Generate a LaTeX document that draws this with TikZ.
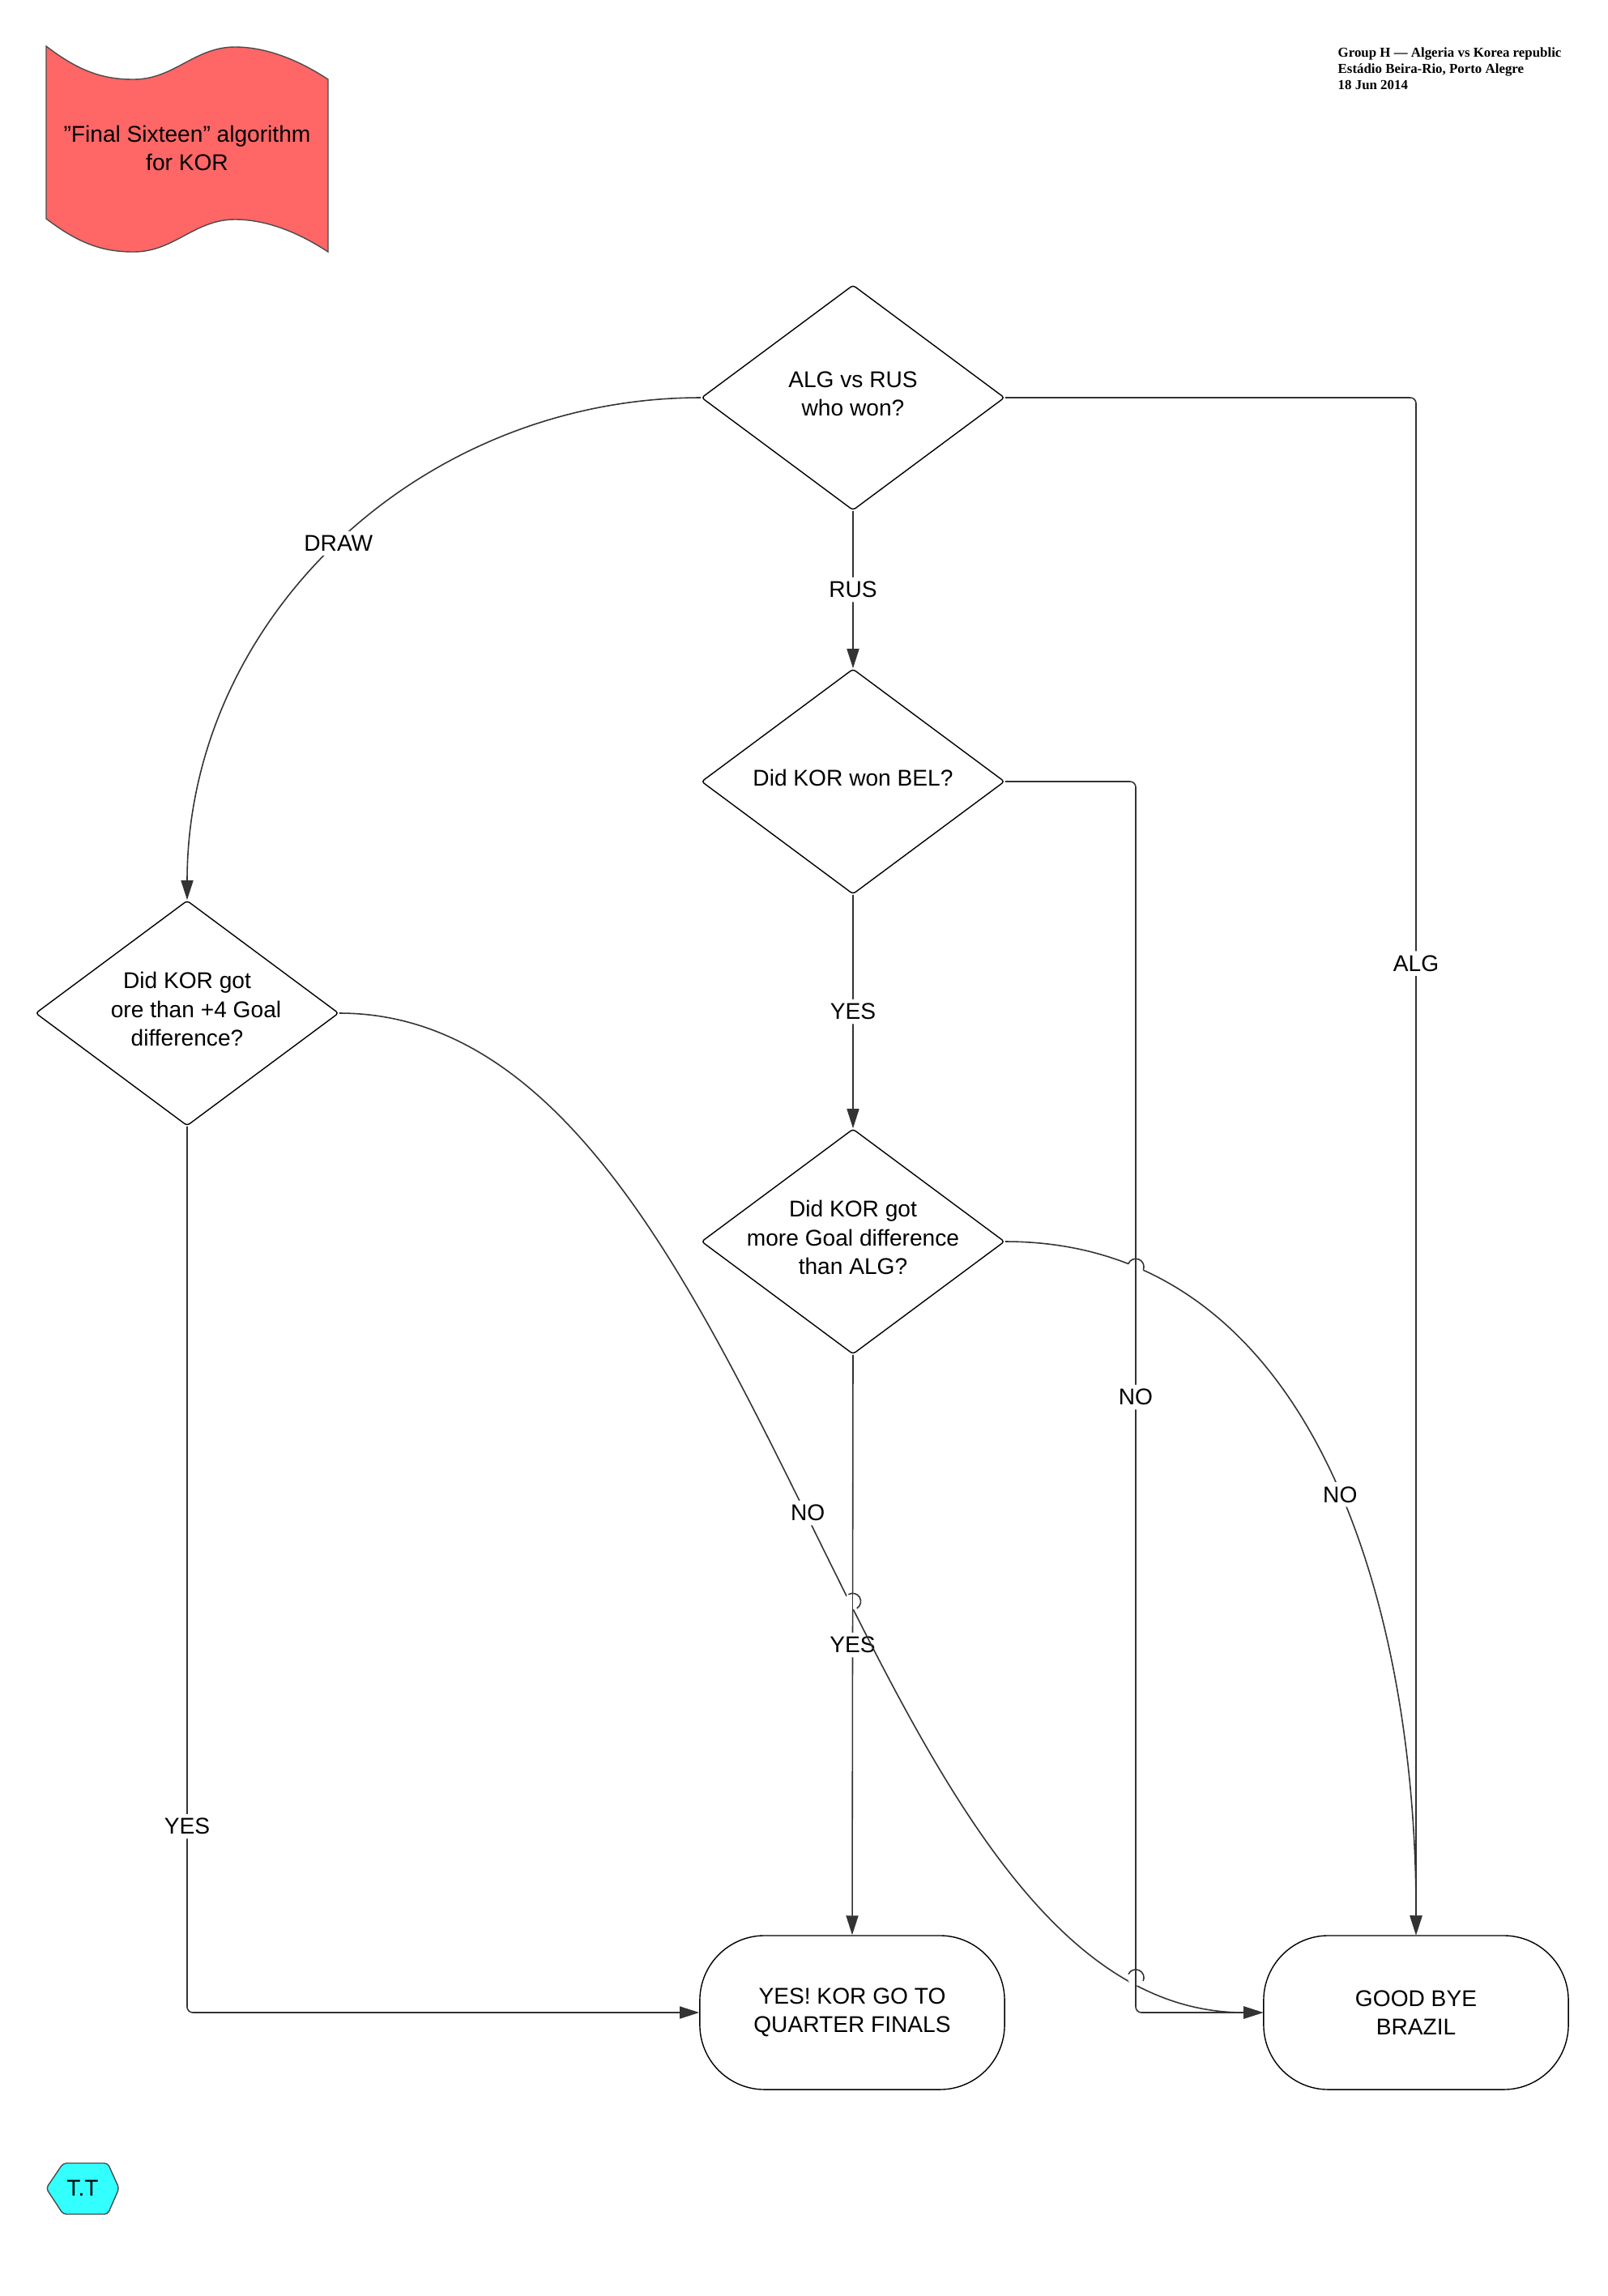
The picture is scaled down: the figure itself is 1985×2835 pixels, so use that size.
\documentclass[tikz,border=0pt]{standalone}
\usepackage{fontspec}
\setmainfont{Liberation Sans}
\newfontfamily\headfont{Liberation Serif}
\usetikzlibrary{shapes.geometric,arrows.meta,intersections,calc}
\definecolor{flagred}{HTML}{FF6666}
\definecolor{ttcyan}{HTML}{33FFFF}

\begin{document}
\begin{tikzpicture}[
	x=0.01cm, y=-0.01cm,
	every node/.style = {font=\fontsize{8}{10}\selectfont},
	every label/.style = {yshift=0.05cm},
	decision/.style = {draw, diamond, rounded corners=1pt, minimum width=3.74cm, minimum height=2.78cm, inner sep=0pt},
	terminal/.style = {draw, rectangle, rounded corners=0.8cm, minimum width=3.76cm, minimum height=1.9cm, align=center},
	conn/.style = {draw=black!80, line width=0.45pt, rounded corners=0.07cm, -{Triangle[length=0.24cm, width=0.15cm]}},
	lbl/.style = {fill=white, inner sep=1.5pt}]

	\useasboundingbox (0,0) rectangle (1985,2835);

	% title flag
	\draw[fill=flagred, draw=black!70, line width=0.4pt]
		(57,57) .. controls (100,90) and (130,98) .. (165,98)
		.. controls (215,98) and (240,58) .. (290,58)
		.. controls (330,58) and (370,75) .. (405,98)
		-- (405,311)
		.. controls (370,288) and (330,271) .. (290,271)
		.. controls (240,271) and (215,311) .. (165,311)
		.. controls (130,311) and (100,303) .. (57,270) -- cycle;
	\node[align=center] (title) at (231,183) {"Final Sixteen" algorithm\\for KOR};

	\node[anchor=north west, align=left, inner sep=0pt, font=\headfont\bfseries\fontsize{4.8}{5.7}\selectfont] (match) at (1651,58)
		{Group H — Algeria vs Korea republic\\Estádio Beira-Rio, Porto Alegre\\18 Jun 2014};

	% decisions
	\node[decision, label={[align=center]center:ALG vs RUS\\who won?}] (alg) at (1053,491) {};
	\node[decision, label={center:Did KOR won BEL?}] (bel) at (1053,965) {};
	\node[decision, label={[align=center]center:Did KOR got\\more Goal difference\\than ALG?}] (gd) at (1053,1533) {};
	\node[decision, label={[align=center]center:Did KOR got\\\hspace*{0.22cm}ore than +4 Goal\\difference?}] (plus) at (231,1251) {};

	% ends
	\node[terminal] (quarter) at (1052,2485) {YES! KOR GO TO\\QUARTER FINALS};
	\node[terminal] (bye) at (1748,2485) {GOOD BYE\\BRAZIL};
	\coordinate (nobend) at (1402,2485);

	% connectors
	\draw[conn] (alg.east) -| node[lbl, pos=0.684] {ALG} (bye.north);
	\draw[conn] (alg.south) -- node[lbl] {RUS} (bel.north);
	\draw[conn] (bel.south) -- node[lbl] {YES} (gd.north);
	\draw[conn] (bel.east) -| node[lbl, pos=0.75] {NO} (nobend) -- (bye.west);
	\draw[conn] (gd.south) -- node[lbl] {YES} (quarter.north);
	\draw[conn] (plus.south) |- node[lbl, pos=0.395] {YES} (quarter.west);
	\draw[conn] (alg.west) to[out=180, in=90] node[lbl] {DRAW} (plus.north);
	\draw[conn, name path=cfour] (plus.east) .. controls (950,1251) and (1050,2485) .. node[lbl] {NO} (bye.west);
	\draw[conn, name path=cthree] (gd.east) .. controls (1630,1533) and (1749,2000) .. node[lbl, pos=0.53] {NO} (bye.north);

	% line hops
	\path[name path=vyes] (gd.south) -- (quarter.north);
	\path[name path=vno] (bel.east -| nobend) -- (nobend);
	\path[name intersections={of=cfour and vyes, by=hopa}];
	\path[name intersections={of=cfour and vno, by=hopb}];
	\path[name intersections={of=cthree and vno, by=hopc}];
	\foreach \h/\a in {hopa/-59, hopb/-25, hopc/-22}
	{
		\fill[white] (\h) circle (0.1cm);
		\draw[draw=black!80, line width=0.45pt] ($(\h)+(0,12)$) -- ($(\h)+(0,-12)$);
		\draw[draw=black!80, line width=0.45pt] ($(\h)+(\a+180:0.1cm)$) arc[start angle=\a+180, end angle=\a, radius=0.1cm];
	}

	% signature
	\draw[fill=ttcyan, draw=black!70, line width=0.4pt, rounded corners=0.04cm]
		(78,2671) -- (133,2671) -- (147,2702) -- (133,2734) -- (78,2734) -- (57,2702) -- cycle;
	\node (tt) at (102,2702) {T.T};
\end{tikzpicture}
\end{document}
